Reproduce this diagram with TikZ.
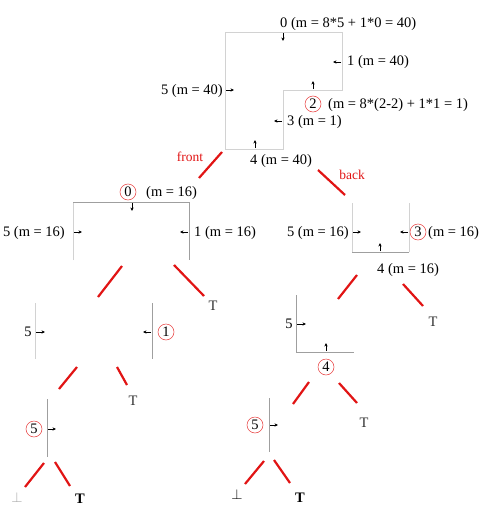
\documentclass[tikz,border=0pt]{standalone}
\usepackage{fontspec}
\setmainfont{Liberation Serif}
\usetikzlibrary{arrows.meta}
\definecolor{brred}{RGB}{225,20,20}
\tikzset{
  edgeD/.style={draw=gray!75, line width=0.8pt},
  edgeL/.style={draw=gray!35, line width=0.8pt},
  nrm/.style={-{Stealth[length=3.5pt,width=3.4pt]}, line width=0.65pt, black},
  br/.style={draw=brred, line width=2.2pt},
  circ/.style={circle, draw=brred!85, line width=0.5pt, minimum size=16pt, inner sep=0pt, font=\fontsize{14.5}{16}\selectfont},
  lbl/.style={inner sep=0pt, font=\fontsize{14.5}{16}\selectfont},
  redlbl/.style={inner sep=0pt, text=brred, font=\fontsize{13.5}{15}\selectfont},
  tlbl/.style={inner sep=0pt, text=black!80, font=\fontsize{14.5}{16}\selectfont},
  tbold/.style={inner sep=0pt, text=black, font=\fontsize{14.5}{16}\selectfont\bfseries},
  botlbl/.style={inner sep=0pt, font=\fontsize{15}{16}\selectfont},
}
\begin{document}
\begin{tikzpicture}[x=1pt,y=-1pt]
\useasboundingbox (0,0) rectangle (500,519);

% ---------------- top polygon ----------------
\coordinate (p1) at (225,32);
\coordinate (p2) at (342,32);
\coordinate (p3) at (342,90);
\coordinate (p4) at (283,90);
\coordinate (p5) at (283,149);
\coordinate (p6) at (225,149);
\draw[edgeL] (p1) -- (p2) -- (p3) -- (p4) -- (p5) -- (p6) -- cycle;

\node[lbl, anchor=base west] (t0) at (280,28) {0 (m = 8*5 + 1*0 = 40)};
\node[lbl, anchor=base west] (t1) at (347,66) {1 (m = 40)};
\node[lbl, anchor=base east] (t5) at (223,94) {5 (m = 40)};
\node[circ] (c2) at (313,104) {2};
\node[lbl, anchor=base west] (t2) at (328,108) {(m = 8*(2-2) + 1*1 = 1)};
\node[lbl, anchor=base west] (t3) at (287,125) {3 (m = 1)};
\node[lbl, anchor=base west] (t4) at (250,164) {4 (m = 40)};

\coordinate (a0s) at (283,33);  \coordinate (a0e) at (283,41);
\coordinate (a1s) at (341,62);  \coordinate (a1e) at (333,62);
\coordinate (a5s) at (226,90);  \coordinate (a5e) at (234,90);
\coordinate (a2s) at (313,89);  \coordinate (a2e) at (313,81);
\coordinate (a3s) at (282,121); \coordinate (a3e) at (274,121);
\coordinate (a4s) at (255,148); \coordinate (a4e) at (255,140);
\draw[nrm] (a0s) -- (a0e);
\draw[nrm] (a1s) -- (a1e);
\draw[nrm] (a5s) -- (a5e);
\draw[nrm] (a2s) -- (a2e);
\draw[nrm] (a3s) -- (a3e);
\draw[nrm] (a4s) -- (a4e);

% branches from root
\coordinate (fr1) at (222,152); \coordinate (fr2) at (199,178);
\draw[br] (fr1) -- (fr2);
\node[redlbl, anchor=base] (front) at (190,161) {front};
\coordinate (bk1) at (318,170); \coordinate (bk2) at (345,195);
\draw[br] (bk1) -- (bk2);
\node[redlbl, anchor=base] (back) at (352,179) {back};

% ---------------- level 2, left (front) ----------------
\coordinate (l1) at (73,260);
\coordinate (l2) at (73,202);
\coordinate (l3) at (189,202);
\coordinate (l4) at (189,260);
\draw[edgeL] (l1) -- (l2);
\draw[edgeD] (l2) -- (l3) -- (l4);
\node[circ] (c0) at (128,192) {0};
\node[lbl, anchor=base west] (m0) at (146,196) {(m = 16)};
\node[lbl, anchor=base east] (l5) at (65,236) {5 (m = 16)};
\node[lbl, anchor=base west] (l1t) at (194,236) {1 (m = 16)};
\coordinate (b0s) at (132,203); \coordinate (b0e) at (132,211);
\coordinate (b5s) at (74,232);  \coordinate (b5e) at (82,232);
\coordinate (b1s) at (188,232); \coordinate (b1e) at (180,232);
\draw[nrm] (b0s) -- (b0e);
\draw[nrm] (b5s) -- (b5e);
\draw[nrm] (b1s) -- (b1e);

\coordinate (lf1) at (122,266); \coordinate (lf2) at (98,297);
\coordinate (lb1) at (174,265); \coordinate (lb2) at (204,296);
\draw[br] (lf1) -- (lf2);
\draw[br] (lb1) -- (lb2);
\node[tlbl, anchor=base] (T1) at (213,310) {T};

% level 3 left
\coordinate (m1) at (35,303); \coordinate (m2) at (35,359);
\coordinate (m3) at (152,303); \coordinate (m4) at (152,359);
\draw[edgeL] (m1) -- (m2);
\draw[edgeD] (m3) -- (m4);
\node[lbl, anchor=base] (m5) at (28,336) {5};
\node[circ] (c1) at (166,332) {1};
\coordinate (d5s) at (36,332);  \coordinate (d5e) at (45,332);
\coordinate (d1s) at (151,332); \coordinate (d1e) at (143,332);
\draw[nrm] (d5s) -- (d5e);
\draw[nrm] (d1s) -- (d1e);

\coordinate (mf1) at (77,367); \coordinate (mf2) at (59,389);
\coordinate (mb1) at (117,367); \coordinate (mb2) at (127,385);
\draw[br] (mf1) -- (mf2);
\draw[br] (mb1) -- (mb2);
\node[tlbl, anchor=base] (T2) at (133,405) {T};

% bottom left
\coordinate (n1) at (47,399); \coordinate (n2) at (47,457);
\draw[edgeD] (n1) -- (n2);
\node[circ] (c5a) at (34,429) {5};
\coordinate (e5s) at (48,429); \coordinate (e5e) at (56,429);
\draw[nrm] (e5s) -- (e5e);
\coordinate (nf1) at (44,463); \coordinate (nf2) at (25,487);
\coordinate (nb1) at (55,462); \coordinate (nb2) at (70,486);
\draw[br] (nf1) -- (nf2);
\draw[br] (nb1) -- (nb2);
\node[botlbl, anchor=base, text=gray!70] (F1) at (17,502) {$\bot$};
\node[tbold, anchor=base] (T3) at (80,503) {T};

% ---------------- level 2, right (back) ----------------
\coordinate (r1) at (352,203);
\coordinate (r2) at (352,252);
\coordinate (r3) at (409,252);
\coordinate (r4) at (409,203);
\draw[edgeL] (r1) -- (r2);
\draw[edgeL] (r3) -- (r4);
\draw[edgeD] (r2) -- (r3);
\node[lbl, anchor=base east] (r5) at (349,236) {5 (m = 16)};
\node[circ] (c3) at (418,232) {3};
\node[lbl, anchor=base west] (m3t) at (428,236) {(m = 16)};
\node[lbl, anchor=base west] (r4t) at (377,273) {4 (m = 16)};
\coordinate (g5s) at (353,232); \coordinate (g5e) at (361,232);
\coordinate (g3s) at (408,232); \coordinate (g3e) at (400,232);
\coordinate (g4s) at (380,251); \coordinate (g4e) at (380,243);
\draw[nrm] (g5s) -- (g5e);
\draw[nrm] (g3s) -- (g3e);
\draw[nrm] (g4s) -- (g4e);

\coordinate (rf1) at (357,275); \coordinate (rf2) at (338,299);
\coordinate (rb1) at (403,284); \coordinate (rb2) at (423,306);
\draw[br] (rf1) -- (rf2);
\draw[br] (rb1) -- (rb2);
\node[tlbl, anchor=base] (T4) at (433,326) {T};

% level 3 right
\coordinate (s1) at (296,295); \coordinate (s2) at (296,352); \coordinate (s3) at (354,352);
\draw[edgeD] (s1) -- (s2) -- (s3);
\node[lbl, anchor=base] (s5) at (289,328) {5};
\node[circ] (c4) at (326,367) {4};
\coordinate (h5s) at (297,324); \coordinate (h5e) at (306,324);
\coordinate (h4s) at (326,351); \coordinate (h4e) at (326,343);
\draw[nrm] (h5s) -- (h5e);
\draw[nrm] (h4s) -- (h4e);

\coordinate (sf1) at (309,382); \coordinate (sf2) at (293,404);
\coordinate (sb1) at (339,383); \coordinate (sb2) at (357,403);
\draw[br] (sf1) -- (sf2);
\draw[br] (sb1) -- (sb2);
\node[tlbl, anchor=base] (T5) at (364,427) {T};

% bottom right
\coordinate (u1) at (269,398); \coordinate (u2) at (269,452);
\draw[edgeD] (u1) -- (u2);
\node[circ] (c5b) at (255,425) {5};
\coordinate (k5s) at (270,425); \coordinate (k5e) at (278,425);
\draw[nrm] (k5s) -- (k5e);
\coordinate (uf1) at (264,461); \coordinate (uf2) at (245,484);
\coordinate (ub1) at (274,460); \coordinate (ub2) at (290,483);
\draw[br] (uf1) -- (uf2);
\draw[br] (ub1) -- (ub2);
\node[botlbl, anchor=base, text=black] (F2) at (237,499) {$\bot$};
\node[tbold, anchor=base] (T6) at (300,502) {T};
\end{tikzpicture}
\end{document}
